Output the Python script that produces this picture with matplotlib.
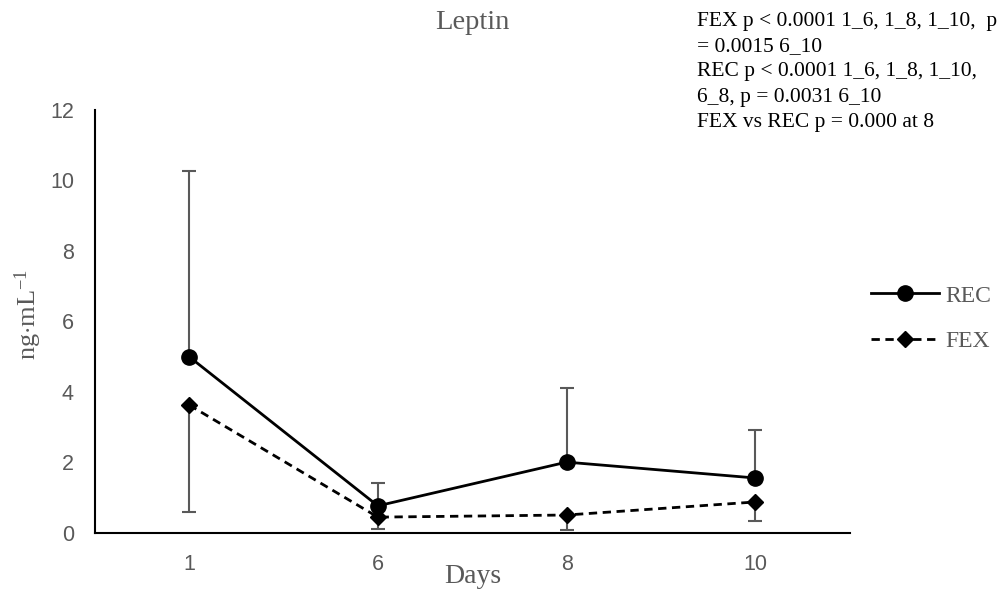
import matplotlib
matplotlib.use('Agg')
import matplotlib.pyplot as plt
import numpy as np

plt.rcParams['mathtext.fontset'] = 'custom'
plt.rcParams['mathtext.rm'] = 'Liberation Serif'
plt.rcParams['mathtext.it'] = 'Liberation Serif:italic'

days = ['1', '6', '8', '10']
rec_mean = [5.0, 0.77, 2.01, 1.56]
rec_err_up = [5.27, 0.65, 2.10, 1.36]
fex_mean = [3.63, 0.45, 0.51, 0.88]
fex_err_down = [3.03, 0.34, 0.43, 0.54]

stats_text = ('FEX p < 0.0001 1_6, 1_8, 1_10,  p\n'
              '= 0.0015 6_10\n'
              'REC p < 0.0001 1_6, 1_8, 1_10,\n'
              '6_8, p = 0.0031 6_10\n'
              'FEX vs REC p = 0.000 at 8')

GRAY = '#595959'
SERIF = 'Liberation Serif'
SANS = 'Liberation Sans'

fig = plt.figure(figsize=(10.08, 5.94), dpi=100)
ax = fig.add_axes([0.094, 0.1027, 0.749, 0.7123])

x = np.arange(len(days))
zeros = np.zeros(len(days))

ax.errorbar(x, rec_mean, yerr=[zeros, rec_err_up], fmt='none',
            ecolor=GRAY, elinewidth=1.5, capsize=5, capthick=1.5, zorder=2)
ax.errorbar(x, fex_mean, yerr=[fex_err_down, zeros], fmt='none',
            ecolor=GRAY, elinewidth=1.5, capsize=5, capthick=1.5, zorder=2)

ax.plot(x, rec_mean, color='black', linewidth=2, marker='o',
        markersize=11, label='REC', zorder=3)
ax.plot(x, fex_mean, color='black', linewidth=2, linestyle=(0, (3, 2)),
        marker='D', markersize=8, label='FEX', zorder=3)

ax.set_xlim(-0.5, len(days) - 0.5)
ax.set_ylim(0, 12)
ax.set_xticks(x)
ax.set_xticklabels(days)
ax.set_yticks(np.arange(0, 13, 2))
ax.tick_params(axis='both', length=0, labelsize=15.5, labelcolor=GRAY)
ax.tick_params(axis='x', pad=15)
ax.tick_params(axis='y', pad=15)
for lab in ax.get_xticklabels() + ax.get_yticklabels():
    lab.set_fontfamily(SANS)

for side in ['top', 'right']:
    ax.spines[side].set_visible(False)
ax.spines['left'].set_linewidth(1.5)
ax.spines['bottom'].set_linewidth(1.5)

fig.text(0.469, 0.962, 'Leptin', ha='center', va='center',
         fontsize=20.5, color=GRAY, family=SERIF)
fig.text(0.469, 0.029, 'Days', ha='center', va='center',
         fontsize=20, color=GRAY, family=SERIF)
fig.text(0.028, 0.47, r'ng$\cdot$mL$^{-1}$', ha='center', va='center',
         rotation=90, fontsize=19, color=GRAY, family=SERIF)
fig.text(0.691, 0.98, stats_text, ha='left', va='top', fontsize=15.5,
         color='black', family=SERIF, linespacing=1.45)

leg = ax.legend(loc='center left', bbox_to_anchor=(1.0, 0.507),
                frameon=False, handlelength=2.9, handletextpad=0.25,
                labelspacing=1.0, prop={'family': SERIF, 'size': 17})
for t in leg.get_texts():
    t.set_color(GRAY)

fig.savefig('out.png', dpi=100)
